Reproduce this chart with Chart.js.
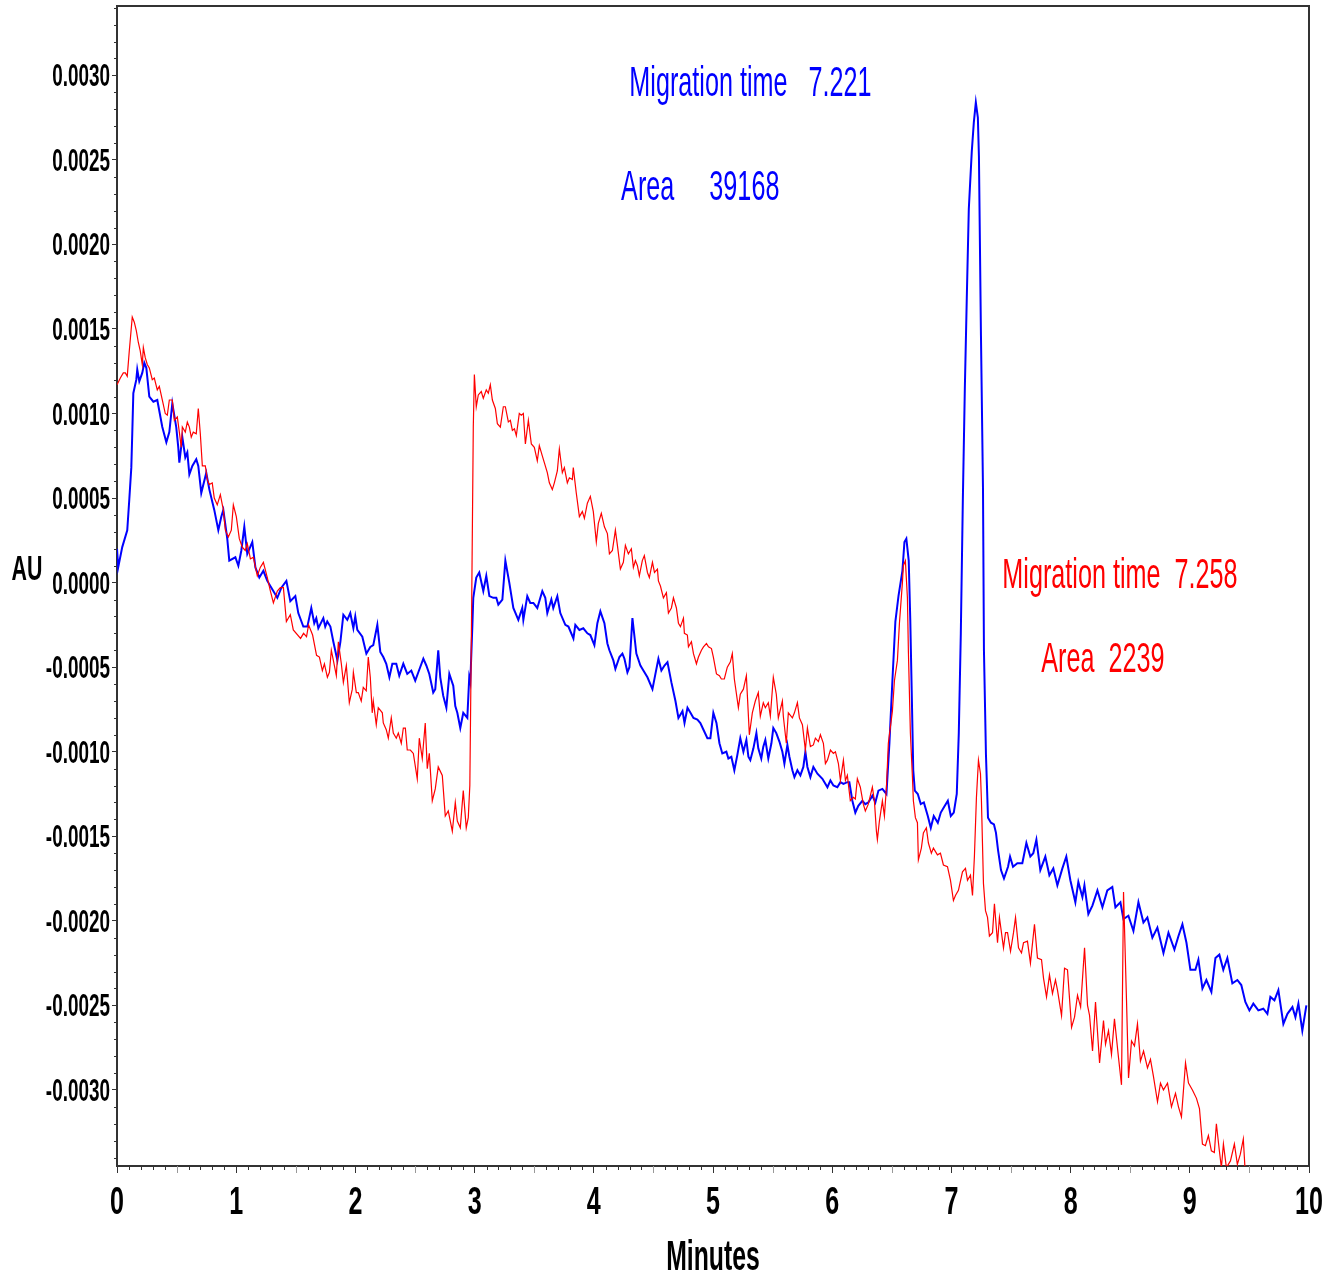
<!DOCTYPE html>
<html>
<head>
<meta charset="utf-8">
<title>Electropherogram</title>
<script src="https://cdn.jsdelivr.net/npm/chart.js@4.4.1/dist/chart.umd.min.js"></script>
<style>
  html, body { margin: 0; padding: 0; background: #fff; }
  canvas { display: block; }
</style>
</head>
<body>
<canvas id="plot" width="1329" height="1279"></canvas>
<script>
// Blue trace (minutes / AU)
const blueTime = [
  0.000, 0.010, 0.044, 0.086, 0.103, 0.120, 0.128, 0.137, 0.162, 0.170, 0.187, 0.212, 0.229, 0.246, 0.271, 0.305,
  0.338, 0.380, 0.414, 0.439, 0.464, 0.497, 0.514, 0.523, 0.548, 0.573, 0.590, 0.607, 0.632, 0.665, 0.682, 0.707,
  0.749, 0.775, 0.816, 0.850, 0.875, 0.892, 0.925, 0.942, 0.993, 1.018, 1.043, 1.068, 1.093, 1.135, 1.161, 1.194,
  1.228, 1.261, 1.295, 1.345, 1.379, 1.421, 1.454, 1.496, 1.521, 1.563, 1.597, 1.630, 1.655, 1.672, 1.689, 1.731,
  1.747, 1.764, 1.790, 1.815, 1.849, 1.874, 1.899, 1.932, 1.957, 1.983, 1.999, 2.016, 2.058, 2.092, 2.125, 2.150,
  2.184, 2.209, 2.234, 2.259, 2.285, 2.310, 2.343, 2.368, 2.402, 2.435, 2.469, 2.502, 2.528, 2.570, 2.595, 2.620,
  2.653, 2.670, 2.695, 2.712, 2.737, 2.763, 2.788, 2.821, 2.838, 2.855, 2.880, 2.905, 2.939, 2.955, 2.964, 2.981,
  2.989, 3.014, 3.039, 3.073, 3.098, 3.124, 3.157, 3.182, 3.199, 3.233, 3.258, 3.291, 3.325, 3.367, 3.400, 3.409,
  3.442, 3.467, 3.493, 3.526, 3.568, 3.593, 3.610, 3.644, 3.660, 3.694, 3.719, 3.761, 3.787, 3.829, 3.845, 3.879,
  3.912, 3.946, 3.971, 4.005, 4.030, 4.055, 4.089, 4.114, 4.131, 4.164, 4.181, 4.215, 4.240, 4.257, 4.282, 4.299,
  4.324, 4.357, 4.391, 4.416, 4.450, 4.492, 4.517, 4.542, 4.567, 4.593, 4.618, 4.651, 4.685, 4.710, 4.744, 4.761,
  4.786, 4.811, 4.836, 4.869, 4.894, 4.920, 4.953, 4.978, 5.003, 5.029, 5.054, 5.078, 5.112, 5.129, 5.154, 5.179,
  5.204, 5.229, 5.255, 5.280, 5.297, 5.313, 5.339, 5.364, 5.380, 5.405, 5.422, 5.439, 5.464, 5.490, 5.506, 5.531,
  5.557, 5.582, 5.599, 5.624, 5.641, 5.666, 5.683, 5.708, 5.733, 5.758, 5.775, 5.792, 5.817, 5.842, 5.876, 5.918,
  5.935, 5.960, 5.985, 6.010, 6.043, 6.069, 6.094, 6.127, 6.144, 6.169, 6.194, 6.219, 6.253, 6.278, 6.303, 6.337,
  6.362, 6.388, 6.421, 6.455, 6.480, 6.505, 6.530, 6.556, 6.589, 6.606, 6.622, 6.642, 6.655, 6.667, 6.680, 6.693,
  6.718, 6.743, 6.769, 6.802, 6.827, 6.852, 6.886, 6.911, 6.936, 6.970, 6.995, 7.020, 7.045, 7.062, 7.079, 7.096,
  7.113, 7.129, 7.146, 7.171, 7.188, 7.205, 7.222, 7.231, 7.248, 7.265, 7.273, 7.290, 7.307, 7.332, 7.357, 7.374,
  7.391, 7.416, 7.441, 7.475, 7.492, 7.517, 7.553, 7.595, 7.629, 7.662, 7.687, 7.713, 7.746, 7.788, 7.822, 7.855,
  7.889, 7.931, 7.964, 7.998, 8.040, 8.065, 8.099, 8.116, 8.149, 8.183, 8.225, 8.267, 8.308, 8.350, 8.376, 8.418,
  8.443, 8.485, 8.527, 8.569, 8.611, 8.644, 8.686, 8.728, 8.779, 8.821, 8.871, 8.905, 8.938, 8.972, 9.005, 9.047,
  9.072, 9.106, 9.139, 9.181, 9.215, 9.248, 9.281, 9.315, 9.357, 9.399, 9.432, 9.466, 9.500, 9.533, 9.575, 9.617,
  9.651, 9.676, 9.710, 9.743, 9.785, 9.819, 9.861, 9.886, 9.911, 9.944, 9.978
];
const blueAU = [
  0.00020, 0.00009, 0.00021, 0.00031, 0.00049, 0.00068, 0.00088, 0.00112, 0.00120, 0.00126, 0.00119, 0.00124, 0.00130, 0.00127, 0.00110, 0.00107,
  0.00108, 0.00092, 0.00083, 0.00089, 0.00106, 0.00092, 0.00080, 0.00071, 0.00086, 0.00074, 0.00077, 0.00064, 0.00069, 0.00073, 0.00069, 0.00053,
  0.00065, 0.00055, 0.00043, 0.00031, 0.00039, 0.00043, 0.00026, 0.00013, 0.00015, 0.00010, 0.00019, 0.00033, 0.00017, 0.00024, 0.00009, 0.00003,
  0.00007, 0.00001, -0.00003, -0.00009, -0.00003, 0.00001, -0.00011, -0.00008, -0.00018, -0.00026, -0.00026, -0.00015, -0.00024, -0.00021, -0.00027, -0.00021,
  -0.00026, -0.00023, -0.00026, -0.00035, -0.00046, -0.00035, -0.00019, -0.00022, -0.00018, -0.00027, -0.00020, -0.00028, -0.00032, -0.00042, -0.00038, -0.00037,
  -0.00025, -0.00041, -0.00044, -0.00048, -0.00056, -0.00048, -0.00048, -0.00055, -0.00048, -0.00054, -0.00052, -0.00058, -0.00053, -0.00045, -0.00049, -0.00054,
  -0.00065, -0.00063, -0.00040, -0.00056, -0.00067, -0.00074, -0.00054, -0.00061, -0.00073, -0.00077, -0.00086, -0.00077, -0.00080, -0.00056, -0.00059, -0.00026,
  -0.00009, 0.00003, 0.00006, -0.00005, 0.00004, -0.00008, -0.00009, -0.00009, -0.00013, -0.00010, 0.00013, 0.00000, -0.00015, -0.00022, -0.00015, -0.00022,
  -0.00008, -0.00012, -0.00012, -0.00015, -0.00005, -0.00009, -0.00018, -0.00010, -0.00015, -0.00008, -0.00018, -0.00025, -0.00026, -0.00033, -0.00025, -0.00028,
  -0.00027, -0.00030, -0.00031, -0.00037, -0.00024, -0.00017, -0.00024, -0.00036, -0.00040, -0.00046, -0.00051, -0.00044, -0.00042, -0.00045, -0.00053, -0.00050,
  -0.00021, -0.00042, -0.00049, -0.00052, -0.00056, -0.00063, -0.00054, -0.00045, -0.00052, -0.00049, -0.00047, -0.00059, -0.00070, -0.00080, -0.00076, -0.00083,
  -0.00074, -0.00077, -0.00080, -0.00081, -0.00083, -0.00087, -0.00092, -0.00092, -0.00077, -0.00083, -0.00095, -0.00101, -0.00100, -0.00104, -0.00103, -0.00111,
  -0.00102, -0.00092, -0.00100, -0.00093, -0.00103, -0.00105, -0.00098, -0.00089, -0.00098, -0.00104, -0.00097, -0.00093, -0.00104, -0.00095, -0.00086, -0.00089,
  -0.00094, -0.00100, -0.00107, -0.00096, -0.00103, -0.00111, -0.00115, -0.00111, -0.00114, -0.00109, -0.00100, -0.00109, -0.00115, -0.00109, -0.00113, -0.00116,
  -0.00118, -0.00121, -0.00117, -0.00120, -0.00121, -0.00118, -0.00119, -0.00118, -0.00118, -0.00129, -0.00136, -0.00132, -0.00129, -0.00131, -0.00130, -0.00126,
  -0.00130, -0.00123, -0.00122, -0.00125, -0.00095, -0.00058, -0.00023, -0.00008, 0.00007, 0.00024, 0.00026, 0.00013, -0.00022, -0.00064, -0.00111, -0.00123,
  -0.00125, -0.00131, -0.00130, -0.00138, -0.00145, -0.00138, -0.00142, -0.00136, -0.00133, -0.00129, -0.00138, -0.00136, -0.00125, -0.00089, -0.00030, 0.00049,
  0.00116, 0.00168, 0.00221, 0.00255, 0.00272, 0.00284, 0.00275, 0.00252, 0.00146, 0.00056, -0.00040, -0.00102, -0.00139, -0.00142, -0.00143, -0.00148,
  -0.00158, -0.00170, -0.00175, -0.00168, -0.00162, -0.00168, -0.00166, -0.00166, -0.00154, -0.00162, -0.00160, -0.00152, -0.00170, -0.00162, -0.00173, -0.00169,
  -0.00179, -0.00169, -0.00162, -0.00176, -0.00189, -0.00177, -0.00186, -0.00179, -0.00196, -0.00191, -0.00182, -0.00192, -0.00182, -0.00180, -0.00192, -0.00189,
  -0.00199, -0.00197, -0.00206, -0.00189, -0.00201, -0.00198, -0.00210, -0.00204, -0.00219, -0.00207, -0.00217, -0.00209, -0.00202, -0.00213, -0.00229, -0.00229,
  -0.00223, -0.00240, -0.00235, -0.00242, -0.00222, -0.00220, -0.00229, -0.00222, -0.00237, -0.00235, -0.00238, -0.00248, -0.00253, -0.00249, -0.00253, -0.00252,
  -0.00255, -0.00245, -0.00247, -0.00241, -0.00261, -0.00255, -0.00251, -0.00257, -0.00249, -0.00265, -0.00250
];

// Red trace (minutes / AU)
const redTime = [
  0.000, 0.028, 0.053, 0.070, 0.086, 0.103, 0.128, 0.145, 0.162, 0.179, 0.195, 0.212, 0.221, 0.237, 0.254, 0.271,
  0.296, 0.313, 0.338, 0.355, 0.380, 0.405, 0.422, 0.439, 0.464, 0.481, 0.506, 0.523, 0.539, 0.548, 0.573, 0.590,
  0.607, 0.623, 0.640, 0.665, 0.682, 0.699, 0.716, 0.741, 0.757, 0.774, 0.799, 0.816, 0.841, 0.867, 0.892, 0.909,
  0.934, 0.959, 0.976, 1.001, 1.026, 1.051, 1.076, 1.093, 1.119, 1.144, 1.177, 1.202, 1.228, 1.261, 1.287, 1.312,
  1.345, 1.370, 1.396, 1.421, 1.454, 1.479, 1.540, 1.565, 1.590, 1.607, 1.641, 1.674, 1.698, 1.723, 1.740, 1.765,
  1.782, 1.798, 1.815, 1.840, 1.857, 1.882, 1.899, 1.924, 1.949, 1.974, 1.983, 2.008, 2.024, 2.049, 2.066, 2.091,
  2.108, 2.125, 2.141, 2.150, 2.175, 2.192, 2.226, 2.234, 2.259, 2.276, 2.301, 2.318, 2.343, 2.360, 2.385, 2.402,
  2.419, 2.435, 2.461, 2.486, 2.519, 2.536, 2.561, 2.586, 2.603, 2.620, 2.645, 2.670, 2.695, 2.729, 2.754, 2.779,
  2.813, 2.838, 2.855, 2.880, 2.905, 2.930, 2.947, 2.960, 2.976, 2.989, 2.998, 3.014, 3.031, 3.056, 3.073, 3.098,
  3.115, 3.132, 3.149, 3.174, 3.191, 3.216, 3.241, 3.258, 3.283, 3.300, 3.317, 3.334, 3.350, 3.375, 3.392, 3.409,
  3.426, 3.451, 3.476, 3.501, 3.526, 3.543, 3.568, 3.585, 3.610, 3.627, 3.652, 3.669, 3.694, 3.711, 3.736, 3.753,
  3.778, 3.795, 3.820, 3.828, 3.853, 3.879, 3.904, 3.921, 3.946, 3.971, 3.996, 4.021, 4.038, 4.063, 4.089, 4.114,
  4.131, 4.156, 4.181, 4.198, 4.223, 4.248, 4.265, 4.290, 4.315, 4.332, 4.349, 4.366, 4.382, 4.407, 4.424, 4.450,
  4.466, 4.492, 4.509, 4.534, 4.542, 4.559, 4.584, 4.609, 4.626, 4.651, 4.668, 4.693, 4.710, 4.727, 4.752, 4.760,
  4.785, 4.794, 4.819, 4.836, 4.861, 4.878, 4.903, 4.920, 4.945, 4.962, 4.987, 5.003, 5.029, 5.054, 5.070, 5.095,
  5.120, 5.145, 5.162, 5.179, 5.213, 5.229, 5.255, 5.280, 5.305, 5.330, 5.355, 5.380, 5.397, 5.422, 5.439, 5.464,
  5.481, 5.506, 5.531, 5.548, 5.582, 5.590, 5.615, 5.632, 5.666, 5.683, 5.708, 5.725, 5.750, 5.775, 5.792, 5.817,
  5.842, 5.859, 5.884, 5.901, 5.926, 5.943, 5.960, 5.985, 6.010, 6.027, 6.052, 6.069, 6.094, 6.111, 6.127, 6.152,
  6.178, 6.194, 6.211, 6.236, 6.261, 6.278, 6.303, 6.337, 6.354, 6.371, 6.379, 6.396, 6.421, 6.438, 6.455, 6.471,
  6.505, 6.522, 6.547, 6.564, 6.589, 6.597, 6.614, 6.631, 6.639, 6.656, 6.673, 6.681, 6.698, 6.715, 6.723, 6.748,
  6.765, 6.790, 6.807, 6.832, 6.849, 6.883, 6.908, 6.933, 6.967, 6.992, 7.017, 7.034, 7.059, 7.093, 7.118, 7.135,
  7.160, 7.177, 7.193, 7.210, 7.227, 7.244, 7.252, 7.269, 7.286, 7.303, 7.319, 7.345, 7.361, 7.387, 7.403, 7.437,
  7.454, 7.471, 7.496, 7.521, 7.538, 7.563, 7.588, 7.605, 7.638, 7.663, 7.697, 7.722, 7.756, 7.773, 7.798, 7.823,
  7.848, 7.873, 7.890, 7.924, 7.949, 7.974, 8.008, 8.033, 8.058, 8.084, 8.117, 8.142, 8.159, 8.184, 8.209, 8.243,
  8.276, 8.293, 8.318, 8.343, 8.368, 8.402, 8.427, 8.444, 8.469, 8.486, 8.511, 8.536, 8.561, 8.586, 8.612, 8.645,
  8.670, 8.695, 8.729, 8.754, 8.779, 8.813, 8.846, 8.880, 8.905, 8.930, 8.964, 8.989, 9.022, 9.056, 9.081, 9.106,
  9.131, 9.156, 9.181, 9.206, 9.223, 9.248, 9.265, 9.282, 9.307, 9.341, 9.374, 9.399, 9.424, 9.449, 9.466, 9.490
];
const redAU = [
  0.00117, 0.00121, 0.00124, 0.00124, 0.00122, 0.00137, 0.00157, 0.00154, 0.00149, 0.00142, 0.00137, 0.00129, 0.00139, 0.00133, 0.00129, 0.00127,
  0.00120, 0.00121, 0.00114, 0.00116, 0.00108, 0.00100, 0.00099, 0.00108, 0.00108, 0.00096, 0.00098, 0.00089, 0.00080, 0.00092, 0.00089, 0.00095,
  0.00092, 0.00086, 0.00089, 0.00088, 0.00103, 0.00088, 0.00069, 0.00069, 0.00061, 0.00058, 0.00059, 0.00050, 0.00046, 0.00052, 0.00043, 0.00031,
  0.00027, 0.00031, 0.00046, 0.00039, 0.00026, 0.00021, 0.00019, 0.00023, 0.00014, 0.00015, 0.00004, 0.00009, 0.00012, 0.00003, -0.00005, -0.00012,
  -0.00005, -0.00003, -0.00003, -0.00023, -0.00019, -0.00028, -0.00033, -0.00030, -0.00032, -0.00025, -0.00031, -0.00043, -0.00044, -0.00052, -0.00048, -0.00056,
  -0.00053, -0.00040, -0.00046, -0.00055, -0.00035, -0.00048, -0.00059, -0.00049, -0.00071, -0.00063, -0.00053, -0.00065, -0.00065, -0.00070, -0.00062, -0.00064,
  -0.00044, -0.00056, -0.00077, -0.00070, -0.00084, -0.00074, -0.00077, -0.00083, -0.00087, -0.00092, -0.00080, -0.00089, -0.00092, -0.00089, -0.00095, -0.00086,
  -0.00086, -0.00099, -0.00099, -0.00101, -0.00116, -0.00092, -0.00104, -0.00083, -0.00110, -0.00101, -0.00129, -0.00122, -0.00109, -0.00114, -0.00138, -0.00135,
  -0.00147, -0.00130, -0.00141, -0.00145, -0.00123, -0.00145, -0.00139, -0.00120, -0.00010, 0.00092, 0.00123, 0.00104, 0.00111, 0.00113, 0.00109, 0.00114,
  0.00112, 0.00117, 0.00108, 0.00103, 0.00094, 0.00092, 0.00104, 0.00104, 0.00095, 0.00096, 0.00090, 0.00091, 0.00087, 0.00100, 0.00099, 0.00100,
  0.00082, 0.00096, 0.00082, 0.00080, 0.00072, 0.00081, 0.00075, 0.00071, 0.00065, 0.00059, 0.00055, 0.00059, 0.00066, 0.00079, 0.00065, 0.00068,
  0.00059, 0.00062, 0.00061, 0.00068, 0.00053, 0.00039, 0.00042, 0.00038, 0.00047, 0.00051, 0.00042, 0.00024, 0.00035, 0.00041, 0.00033, 0.00029,
  0.00017, 0.00019, 0.00031, 0.00022, 0.00008, 0.00012, 0.00022, 0.00017, 0.00020, 0.00009, 0.00013, 0.00010, 0.00004, 0.00013, 0.00016, 0.00006,
  0.00003, 0.00012, 0.00006, 0.00008, 0.00001, -0.00002, -0.00009, -0.00006, -0.00018, -0.00015, -0.00009, -0.00015, -0.00024, -0.00026, -0.00021, -0.00030,
  -0.00031, -0.00038, -0.00035, -0.00042, -0.00048, -0.00044, -0.00040, -0.00038, -0.00036, -0.00038, -0.00039, -0.00044, -0.00054, -0.00055, -0.00057, -0.00057,
  -0.00050, -0.00047, -0.00042, -0.00057, -0.00074, -0.00066, -0.00063, -0.00055, -0.00090, -0.00077, -0.00070, -0.00065, -0.00079, -0.00071, -0.00074, -0.00071,
  -0.00079, -0.00056, -0.00066, -0.00080, -0.00070, -0.00079, -0.00095, -0.00077, -0.00080, -0.00077, -0.00071, -0.00080, -0.00084, -0.00099, -0.00086, -0.00097,
  -0.00096, -0.00092, -0.00094, -0.00090, -0.00095, -0.00107, -0.00105, -0.00099, -0.00101, -0.00100, -0.00107, -0.00117, -0.00105, -0.00117, -0.00114, -0.00129,
  -0.00127, -0.00128, -0.00116, -0.00121, -0.00131, -0.00135, -0.00131, -0.00121, -0.00129, -0.00147, -0.00152, -0.00141, -0.00129, -0.00138, -0.00121, -0.00095,
  -0.00076, -0.00058, -0.00046, -0.00024, 0.00000, 0.00010, 0.00013, -0.00009, -0.00040, -0.00089, -0.00115, -0.00129, -0.00139, -0.00142, -0.00164, -0.00157,
  -0.00148, -0.00145, -0.00154, -0.00160, -0.00157, -0.00161, -0.00160, -0.00167, -0.00168, -0.00176, -0.00188, -0.00185, -0.00182, -0.00171, -0.00169, -0.00176,
  -0.00173, -0.00185, -0.00162, -0.00127, -0.00105, -0.00113, -0.00129, -0.00178, -0.00194, -0.00198, -0.00209, -0.00207, -0.00190, -0.00213, -0.00198, -0.00216,
  -0.00207, -0.00207, -0.00218, -0.00207, -0.00198, -0.00216, -0.00219, -0.00213, -0.00212, -0.00225, -0.00202, -0.00222, -0.00223, -0.00234, -0.00245, -0.00232,
  -0.00243, -0.00235, -0.00241, -0.00256, -0.00228, -0.00229, -0.00263, -0.00257, -0.00244, -0.00251, -0.00216, -0.00250, -0.00256, -0.00277, -0.00248, -0.00284,
  -0.00259, -0.00273, -0.00265, -0.00279, -0.00258, -0.00281, -0.00297, -0.00183, -0.00247, -0.00293, -0.00271, -0.00274, -0.00261, -0.00283, -0.00277, -0.00287,
  -0.00282, -0.00292, -0.00307, -0.00296, -0.00300, -0.00296, -0.00310, -0.00302, -0.00310, -0.00316, -0.00284, -0.00296, -0.00300, -0.00305, -0.00311, -0.00332,
  -0.00333, -0.00327, -0.00336, -0.00337, -0.00320, -0.00336, -0.00346, -0.00332, -0.00346, -0.00342, -0.00332, -0.00344, -0.00338, -0.00329, -0.00350, -0.00360
];

// Axis limits
const xMin = 0, xMax = 10;
const yMin = -0.00345, yMax = 0.00341;

// Peak annotations
const notes = [
    { text: "Migration time   7.221", t: 4.298, au: 0.00288, color: "#0000ff" },
    { text: "Area     39168", t: 4.229, au: 0.00226, color: "#0000ff" },
    { text: "Migration time  7.258", t: 7.427, au: -0.000034, color: "#ff0000" },
    { text: "Area  2239", t: 7.754, au: -0.000531, color: "#ff0000" }
];

const face = "'Liberation Sans', Arial, Helvetica, sans-serif";

function toPoints(times, values) {
    return times.map((t, i) => ({ x: t, y: values[i] }));
}

// Narrow text: the reference lettering is strongly condensed
function squashed(ctx, text, x, y, font, sx, align, color) {
    ctx.save();
    ctx.translate(x, y);
    ctx.scale(sx, 1);
    ctx.font = font;
    ctx.fillStyle = color;
    ctx.textAlign = align;
    ctx.textBaseline = "alphabetic";
    ctx.fillText(text, 0, 0);
    ctx.restore();
}

// Frame, minor ticks, tick labels and text
const extras = {
    id: "extras",
    afterDraw(chart) {
        const ctx = chart.ctx;
        const a = chart.chartArea;
        const x = chart.scales.x;
        const y = chart.scales.y;
        ctx.save();

        // top and right border
        ctx.strokeStyle = "#333";
        ctx.lineWidth = 2;
        ctx.beginPath();
        ctx.moveTo(a.left, a.top);
        ctx.lineTo(a.right, a.top);
        ctx.lineTo(a.right, a.bottom);
        ctx.stroke();

        // minor ticks on x
        ctx.lineWidth = 1;
        for (let i = 1; i < 100; i++) {
            if (i % 10 === 0) continue;
            const px = Math.round(x.getPixelForValue(i / 10)) + 0.5;
            const half = i % 5 === 0;
            ctx.strokeStyle = half ? "#999" : "#333";
            ctx.beginPath();
            ctx.moveTo(px, a.bottom);
            ctx.lineTo(px, a.bottom + (half ? 7 : 4));
            ctx.stroke();
        }

        // minor ticks on y
        ctx.strokeStyle = "#333";
        for (let k = -34; k <= 34; k++) {
            if (k % 5 === 0) continue;
            const py = Math.round(y.getPixelForValue(k / 10000)) + 0.5;
            ctx.beginPath();
            ctx.moveTo(a.left, py);
            ctx.lineTo(a.left - 3, py);
            ctx.stroke();
        }

        // tick labels
        y.ticks.forEach((tk) => {
            const py = y.getPixelForValue(tk.value);
            squashed(ctx, tk.label, a.left - 7, py + 11, "bold 31px " + face, 0.61, "right", "#000");
        });
        x.ticks.forEach((tk) => {
            const px = x.getPixelForValue(tk.value);
            squashed(ctx, tk.label, px, a.bottom + 48, "bold 38px " + face, 0.66, "center", "#000");
        });

        // axis titles
        squashed(ctx, "AU", 27, 580, "bold 35px " + face, 0.61, "center", "#000");
        squashed(ctx, "Minutes", (a.left + a.right) / 2, a.bottom + 104, "bold 42px " + face, 0.59, "center", "#000");

        // annotations
        notes.forEach((n) => {
            squashed(ctx, n.text, x.getPixelForValue(n.t), y.getPixelForValue(n.au),
                "42px " + face, 0.6, "left", n.color);
        });

        ctx.restore();
    }
};

const chart = new Chart(document.getElementById("plot"), {
    type: "line",
    data: {
        datasets: [
            {
                label: "Red",
                data: toPoints(redTime, redAU),
                borderColor: "#ff0000",
                borderWidth: 1.2,
                pointRadius: 0,
                tension: 0,
                clip: 0
            },
            {
                label: "Blue",
                data: toPoints(blueTime, blueAU),
                borderColor: "#0000ff",
                borderWidth: 2,
                pointRadius: 0,
                tension: 0,
                clip: 0
            }
        ]
    },
    options: {
        responsive: false,
        animation: false,
        devicePixelRatio: 1,
        layout: { padding: { top: 6, right: 20, left: 0, bottom: 0 } },
        plugins: {
            legend: { display: false },
            tooltip: { enabled: false }
        },
        scales: {
            x: {
                type: "linear",
                min: xMin,
                max: xMax,
                border: { color: "#333", width: 2 },
                grid: { drawOnChartArea: false, tickLength: 7, tickColor: "#333" },
                ticks: { stepSize: 1, display: false },
                afterFit: (scale) => { scale.height = 113; }
            },
            y: {
                type: "linear",
                min: yMin,
                max: yMax,
                border: { color: "#333", width: 2 },
                grid: { drawOnChartArea: false, tickLength: 5, tickColor: "#333" },
                ticks: {
                    stepSize: 0.0005,
                    includeBounds: false,
                    display: false,
                    callback: (v) => (Math.abs(v) < 1e-9 ? "0.0000" : Number(v).toFixed(4))
                },
                afterFit: (scale) => { scale.width = 117; }
            }
        }
    },
    plugins: [extras]
});
</script>
</body>
</html>
